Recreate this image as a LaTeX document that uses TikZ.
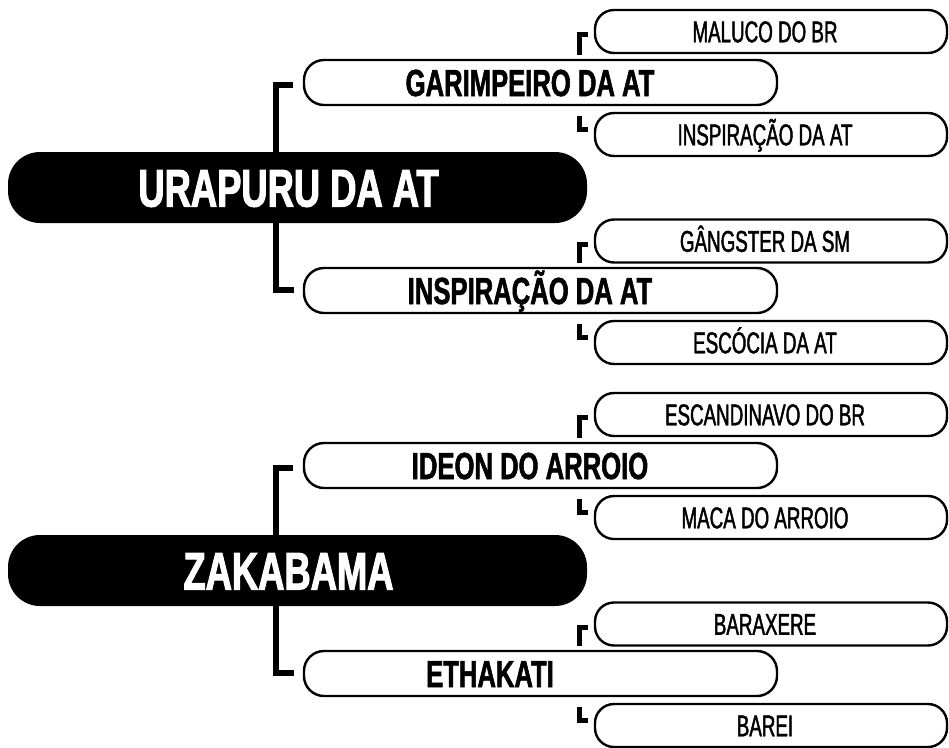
\documentclass[tikz,border=0pt]{standalone}
\usepackage{fontspec}
\setmainfont{Liberation Sans}
\newfontfamily\rootf{Liberation Sans}[FakeStretch=0.686,FakeBold=2]
\newfontfamily\midf{Liberation Sans}[FakeStretch=0.68,FakeBold=1.5]
\newfontfamily\leaff{Liberation Sans}[FakeStretch=0.626,FakeBold=1.5]
\usetikzlibrary{calc,backgrounds}
\newcommand\shl[2]{#2\kern#1pt}
\begin{document}
\begin{tikzpicture}[x=1pt,y=-1pt,
 rootbox/.style={fill=black, rounded corners=32pt, minimum width=579pt, minimum height=71pt, inner sep=0pt, text=white, font=\rootf\bfseries\fontsize{53}{53}\selectfont, text height=38pt, text depth=0pt},
 midbox/.style={draw=black, line width=2.4pt, fill=white, rounded corners=20pt, minimum width=473pt, minimum height=45pt, inner sep=0pt, font=\midf\bfseries\fontsize{37.7}{37.7}\selectfont, text height=27pt, text depth=0pt},
 leafbox/.style={draw=black, line width=2.4pt, fill=white, rounded corners=19pt, minimum width=352pt, minimum height=43pt, inner sep=0pt, font=\leaff\fontsize{30}{30}\selectfont, text height=21.5pt, text depth=0pt},
 trunk/.style={line width=6pt},
 twig/.style={line width=5pt},
]
\useasboundingbox (0,0) rectangle (949,747);
% group 1
\node[rootbox] (r1) at (297.5,187.5) {\shl{18}{URAPURU DA AT}};
\node[midbox] (g1) at (540.5,82.5) {\shl{21}{GARIMPEIRO DA AT}};
\node[midbox] (g2) at (540.5,290.5) {\shl{21}{INSPIRAÇÃO DA AT}};
\node[leafbox] (l1) at (771,31.5) {\shl{12}{MALUCO DO BR}};
\node[leafbox] (l2) at (771,134.5) {\shl{12}{INSPIRAÇÃO DA AT}};
\node[leafbox] (l3) at (771,241) {\shl{12}{GÂNGSTER DA SM}};
\node[leafbox] (l4) at (771,342.5) {\shl{12}{ESCÓCIA DA AT}};
% group 2
\node[rootbox] (r2) at (297.5,570.5) {\shl{18}{ZAKABAMA}};
\node[midbox] (g3) at (540.5,465.5) {\shl{21}{IDEON DO ARROIO}};
\node[midbox] (g4) at (540.5,673.5) {\shl{101}{ETHAKATI}};
\node[leafbox] (l5) at (771,414.5) {\shl{12}{ESCANDINAVO DO BR}};
\node[leafbox] (l6) at (771,517.5) {\shl{12}{MACA DO ARROIO}};
\node[leafbox] (l7) at (771,624) {\shl{12}{BARAXERE}};
\node[leafbox] (l8) at (771,725.5) {\shl{12}{BAREI}};
\begin{scope}[on background layer]
% trunks
\coordinate (t1) at ($(r1.west)+(268,0)$);
\coordinate (t2) at ($(r2.west)+(268,0)$);
\draw[trunk] ($(g1.west)+(-10,2.5)$) -| (t1);
\draw[trunk] ($(g2.west)+(-9,-1)$) -| (t1);
\draw[trunk] ($(g3.west)+(-10,2.5)$) -| (t2);
\draw[trunk] ($(g4.west)+(-9,-1)$) -| (t2);
% twigs
\draw[twig] ($(l1.west)+(-6,3)$) -| ($(l1.west |- g1.north)+(-14.5,-4)$);
\draw[twig] ($(l1.west |- g1.south)+(-14.5,10)$) |- ($(l2.west)+(-6,-5)$);
\draw[twig] ($(l3.west)+(-6,3)$) -| ($(l3.west |- g2.north)+(-14.5,-4)$);
\draw[twig] ($(l3.west |- g2.south)+(-14.5,10)$) |- ($(l4.west)+(-6,-5)$);
\draw[twig] ($(l5.west)+(-6,3)$) -| ($(l5.west |- g3.north)+(-14.5,-4)$);
\draw[twig] ($(l5.west |- g3.south)+(-14.5,10)$) |- ($(l6.west)+(-6,-5)$);
\draw[twig] ($(l7.west)+(-6,3)$) -| ($(l7.west |- g4.north)+(-14.5,-4)$);
\draw[twig] ($(l7.west |- g4.south)+(-14.5,10)$) |- ($(l8.west)+(-6,-5)$);
\end{scope}
\end{tikzpicture}
\end{document}
